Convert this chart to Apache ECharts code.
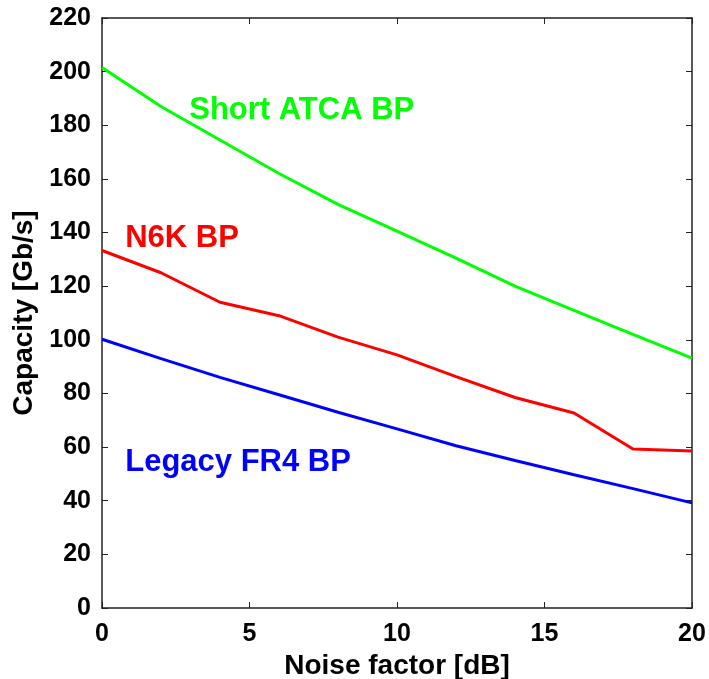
<!DOCTYPE html>
<html>
<head>
<meta charset="utf-8">
<script src="https://cdn.jsdelivr.net/npm/echarts@6/dist/echarts.min.js"></script>
<style>
  html, body { margin: 0; padding: 0; background: #fff; }
  #container { width: 709px; height: 679px; }
</style>
</head>
<body>
<div id="container"></div>
<script>
const noiseFactor = [0, 2, 4, 6, 8, 10, 12, 14, 16, 18, 20];
const shortAtca = [201.5, 187, 174.5, 162, 150.5, 140.5, 130.5, 120, 111, 102, 93.2];
const n6k = [133.3, 125, 114, 109, 101, 94.4, 86.3, 78.5, 72.7, 59.3, 58.5];
const legacyFr4 = [100.2, 93, 86, 79.5, 73, 66.8, 60.5, 55, 49.7, 44.5, 39.2];

const pairs = (ys) => noiseFactor.map((x, i) => [x, ys[i]]);

const font = "Liberation Sans, Arial, Helvetica, sans-serif";

// curve name written inside the plot, anchored at a data coordinate
const inLabel = (text, coord, color) => ({
  silent: true,
  symbol: "circle",
  symbolSize: 1,
  itemStyle: { color: "rgba(0,0,0,0)" },
  data: [
    {
      coord: coord,
      label: {
        show: true,
        formatter: text,
        position: "right",
        distance: 0,
        color: color,
        fontSize: 31,
        fontWeight: "bold",
        fontFamily: font,
      },
    },
  ],
});

const makeSeries = (name, ys, color, coord) => ({
  name: name,
  type: "line",
  data: pairs(ys),
  symbol: "none",
  lineStyle: { color: color, width: 3 },
  markPoint: inLabel(name, coord, color),
});

const axisText = {
  color: "#000",
  fontSize: 25,
  fontWeight: "bold",
  fontFamily: font,
};

const boxLine = { show: true, onZero: false, lineStyle: { color: "#222", width: 1.5 } };
const boxTick = { show: true, inside: true, length: 6, lineStyle: { color: "#222" } };

const dom = document.getElementById("container");
const myChart = echarts.init(dom);

const option = {
  backgroundColor: "#FFFFFF",
  animation: false,
  grid: { left: 102, top: 18, right: 17, bottom: 71, outerBoundsMode: "none", containLabel: false },
  xAxis: [
    {
      type: "value",
      min: 0,
      max: 20,
      interval: 5,
      name: "Noise factor [dB]",
      nameLocation: "middle",
      nameGap: 40,
      nameTextStyle: { ...axisText, fontSize: 28 },
      axisLine: boxLine,
      axisTick: boxTick,
      axisLabel: { ...axisText, margin: 14 },
      splitLine: { show: false },
    },
    {
      type: "value",
      position: "top",
      min: 0,
      max: 20,
      interval: 5,
      axisLine: boxLine,
      axisTick: boxTick,
      axisLabel: { show: false },
      splitLine: { show: false },
    },
  ],
  yAxis: [
    {
      type: "value",
      min: 0,
      max: 220,
      interval: 20,
      name: "Capacity [Gb/s]",
      nameLocation: "middle",
      nameGap: 63,
      nameTextStyle: { ...axisText, fontSize: 28 },
      axisLine: boxLine,
      axisTick: boxTick,
      axisLabel: { ...axisText, margin: 11 },
      splitLine: { show: false },
    },
    {
      type: "value",
      position: "right",
      min: 0,
      max: 220,
      interval: 20,
      axisLine: boxLine,
      axisTick: boxTick,
      axisLabel: { show: false },
      splitLine: { show: false },
    },
  ],
  series: [
    makeSeries("Short ATCA BP", shortAtca, "#00FF00", [2.94, 185.6]),
    makeSeries("N6K BP", n6k, "#FF0000", [0.77, 137.7]),
    makeSeries("Legacy FR4 BP", legacyFr4, "#0000FF", [0.77, 54.4]),
  ],
};

myChart.setOption(option);
</script>
</body>
</html>
